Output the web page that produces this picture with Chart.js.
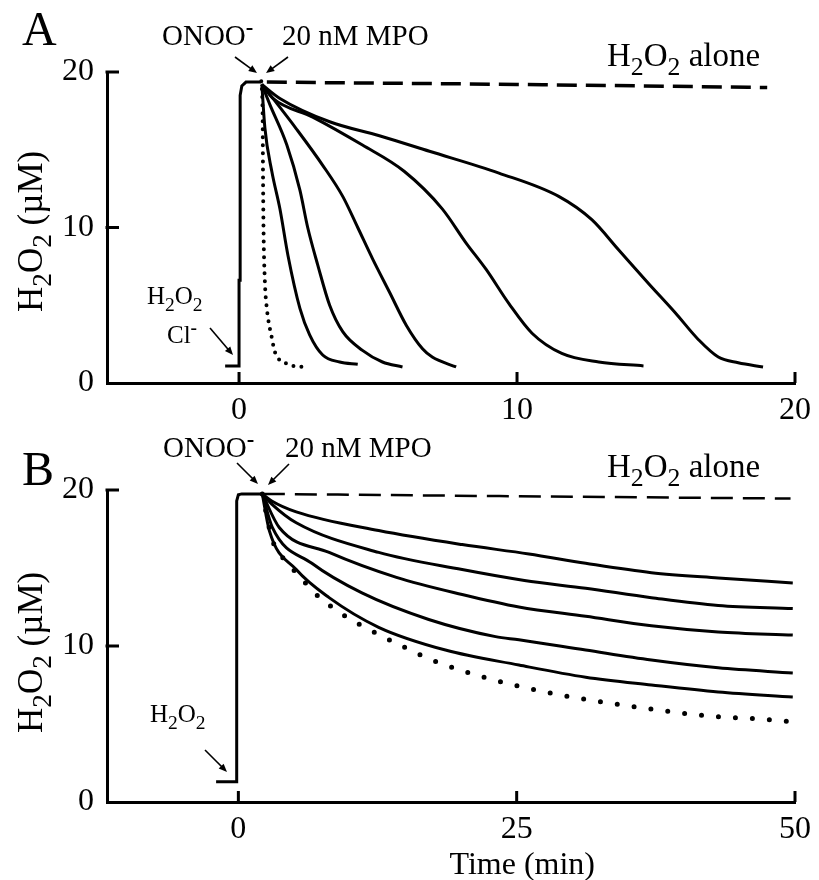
<!DOCTYPE html>
<html>
<head>
<meta charset="utf-8">
<title>H2O2 consumption by MPO</title>
<script src="https://cdn.jsdelivr.net/npm/chart.js@4.4.1/dist/chart.umd.min.js"></script>
<style>
  body { margin: 0; background: #fff; }
  #wrap { position: relative; width: 819px; height: 880px; }
  #wrap canvas { position: absolute; left: 0; top: 0; }
</style>
</head>
<body>
<div id="wrap">
  <canvas id="chartA" width="819" height="880"></canvas>
  <canvas id="chartB" width="819" height="880"></canvas>
</div>
<script>
// ---- panel A data: [time (min), H2O2 (uM)] ----
const aInitial = [[-0.5, 1.1], [0, 1.1], [0, 6.6], [0.04, 6.6], [0.04, 18.5], [0.1, 19.1], [0.25, 19.35], [0.8, 19.35]];
const aAlone = [[1.0, 19.35], [10, 19.2], [19, 19.0]];
const aDotted = [[0.8, 19.4], [0.85, 17], [0.86, 14], [0.88, 10], [0.93, 6.5], [1.0, 4.8], [1.18, 2.9], [1.29, 2.0], [1.65, 1.3], [2.44, 1.0]];
const aCurve1 = [[0.82, 19.2], [0.93, 16.4], [1.18, 13.6], [1.47, 11.2], [1.76, 8.2], [2.19, 4.8], [2.54, 3.1], [3.01, 1.8], [3.62, 1.35], [4.27, 1.2]];
const aCurve2 = [[0.82, 19.2], [1.11, 17.9], [1.72, 15.3], [2.19, 12.4], [2.47, 10.0], [2.83, 7.6], [3.26, 5.0], [3.73, 3.3], [4.44, 2.1], [5.16, 1.35], [5.88, 1.03]];
const aCurve3 = [[0.82, 19.2], [1.22, 18.3], [2.08, 16.3], [3.01, 14.0], [3.73, 12.0], [4.27, 10.0], [4.8, 8.0], [5.41, 5.85], [6.02, 3.7], [6.6, 2.2], [6.95, 1.67], [7.81, 1.03]];
const aCurve4 = [[0.82, 19.2], [1.22, 18.3], [2.65, 17.1], [4.44, 15.3], [5.95, 13.6], [7.31, 11.2], [8.17, 9.0], [8.89, 7.3], [9.71, 5.1], [10.54, 3.2], [11.61, 1.9], [12.94, 1.35], [14.55, 1.1]];
const aCurve5 = [[0.82, 19.2], [1.47, 18.3], [3.26, 16.8], [5.05, 15.9], [6.85, 14.9], [9.35, 13.5], [11.5, 12.0], [12.69, 10.5], [13.66, 8.55], [14.73, 6.4], [15.7, 4.5], [16.52, 2.8], [17.24, 1.67], [17.96, 1.3], [18.85, 1.03]];

// ---- panel B data ----
const bInitial = [[-2, 1.3], [-0.2, 1.3], [-0.15, 1.6], [-0.15, 19.3], [0, 19.7], [0.3, 19.75], [2.2, 19.75]];
const bAlone = [[2.2, 19.75], [25, 19.6], [49.6, 19.45]];
const bDotted = [[2.15, 19.75], [3.05, 16.8], [3.94, 15.7], [5.2, 14.7], [7.0, 13.3], [9.2, 12.1], [11.5, 11.15], [14.4, 10.1], [17.4, 9.1], [22.3, 7.95], [27.2, 7.1], [32.2, 6.47], [37.1, 5.96], [42.4, 5.5], [47.3, 5.3], [50, 5.13]];
const bCurve1 = [[2.15, 19.75], [3, 19.3], [5.2, 18.6], [12.6, 17.4], [20.1, 16.5], [26.1, 15.9], [31.2, 15.3], [37.1, 14.7], [43.1, 14.36], [49.8, 14.04]];
const bCurve2 = [[2.15, 19.75], [3, 19.1], [5.2, 17.9], [12.6, 16.0], [20.1, 14.9], [25.7, 14.2], [31.2, 13.7], [37.1, 13.1], [43.1, 12.6], [49.8, 12.4]];
const bCurve3 = [[2.15, 19.75], [3.67, 17.6], [8.15, 16.0], [14.2, 14.4], [20.1, 13.3], [25.2, 12.5], [31.2, 11.9], [37.1, 11.3], [43.1, 10.9], [49.8, 10.7]];
const bCurve4 = [[2.15, 19.75], [3.05, 17.6], [6.6, 15.3], [11.1, 13.4], [17.1, 11.7], [23.1, 10.6], [25.2, 10.4], [31.2, 9.74], [37.1, 9.1], [43.1, 8.6], [49.8, 8.27]];
const bCurve5 = [[2.15, 19.75], [2.78, 17.4], [5.2, 14.9], [8.15, 13.1], [12.6, 11.2], [18.6, 9.74], [25.2, 8.78], [31.2, 8.0], [37.1, 7.5], [43.1, 7.05], [49.8, 6.73]];

// ---- ticks ----
const aXTicks = [0, 10, 20];
const bXTicks = [0, 25, 50];
const yTicks = [0, 10, 20];

const SERIF = '"Liberation Serif", "Times New Roman", serif';

function xy(pts) {
    return pts.map(p => ({ x: p[0], y: p[1] }));
}

function solid(pts, extra) {
    return Object.assign({
        data: xy(pts),
        showLine: true,
        borderColor: '#000',
        borderWidth: 3,
        pointRadius: 0,
        cubicInterpolationMode: 'monotone',
        fill: false
    }, extra || {});
}

function rich(ctx, parts, x, y, size) {
    let cx = x;
    parts.forEach(p => {
        const txt = Array.isArray(p) ? p[0] : p;
        const mode = Array.isArray(p) ? p[1] : '';
        const fs = mode ? size * 0.78 : size;
        let dy = 0;
        if (mode === 'sub') dy = size * 0.27;
        if (mode === 'sup') dy = -size * 0.36;
        ctx.font = (mode === 'sup' ? 'bold ' : '') + fs + 'px ' + SERIF;
        ctx.fillText(txt, cx, y + dy);
        cx += ctx.measureText(txt).width;
    });
}

function arrow(ctx, x1, y1, x2, y2) {
    const a = Math.atan2(y2 - y1, x2 - x1);
    const h = 9;
    ctx.lineWidth = 1.6;
    ctx.beginPath();
    ctx.moveTo(x1, y1);
    ctx.lineTo(x2 - Math.cos(a) * h * 0.7, y2 - Math.sin(a) * h * 0.7);
    ctx.stroke();
    ctx.beginPath();
    ctx.moveTo(x2, y2);
    ctx.lineTo(x2 - h * Math.cos(a - 0.4), y2 - h * Math.sin(a - 0.4));
    ctx.lineTo(x2 - h * Math.cos(a + 0.4), y2 - h * Math.sin(a + 0.4));
    ctx.closePath();
    ctx.fill();
}

function innerTicks(chart, xTicks) {
    const { ctx, chartArea, scales } = chart;
    ctx.save();
    ctx.strokeStyle = '#000';
    ctx.lineWidth = 3;
    ctx.beginPath();
    xTicks.forEach(v => {
        const px = scales.x.getPixelForValue(v);
        ctx.moveTo(px, chartArea.bottom);
        ctx.lineTo(px, chartArea.bottom - 11);
    });
    yTicks.forEach(v => {
        if (v === 0) return;
        const py = scales.y.getPixelForValue(v);
        ctx.moveTo(chartArea.left - 1.5, py);
        ctx.lineTo(chartArea.left + 12, py);
    });
    ctx.stroke();
    ctx.restore();
}

function yTitle(ctx, x, bottom) {
    ctx.save();
    ctx.translate(x, bottom);
    ctx.rotate(-Math.PI / 2);
    rich(ctx, ['H', ['2', 'sub'], 'O', ['2', 'sub'], ' (\u00b5M)'], 0, 0, 35);
    ctx.restore();
}

const decorA = {
    id: 'decorA',
    afterDraw(chart) {
        const ctx = chart.ctx;
        innerTicks(chart, aXTicks);
        ctx.save();
        ctx.fillStyle = '#000';
        ctx.strokeStyle = '#000';
        ctx.textBaseline = 'alphabetic';
        rich(ctx, ['A'], 22, 45, 48);
        rich(ctx, ['ONOO', ['-', 'sup']], 162, 45, 29);
        rich(ctx, ['20 nM MPO'], 282, 45, 29);
        arrow(ctx, 235, 57, 257, 73);
        arrow(ctx, 288, 57, 266, 73);
        rich(ctx, ['H', ['2', 'sub'], 'O', ['2', 'sub'], ' alone'], 607, 66, 33);
        rich(ctx, ['H', ['2', 'sub'], 'O', ['2', 'sub']], 147, 304, 25);
        rich(ctx, ['Cl', ['-', 'sup']], 167, 343, 25);
        arrow(ctx, 210, 328, 233, 355);
        yTitle(ctx, 42, 312);
        ctx.restore();
    }
};

const decorB = {
    id: 'decorB',
    afterDraw(chart) {
        const ctx = chart.ctx;
        innerTicks(chart, bXTicks);
        ctx.save();
        ctx.fillStyle = '#000';
        ctx.strokeStyle = '#000';
        ctx.textBaseline = 'alphabetic';
        rich(ctx, ['B'], 22, 485, 48);
        rich(ctx, ['ONOO', ['-', 'sup']], 163, 457, 29);
        rich(ctx, ['20 nM MPO'], 285, 457, 29);
        arrow(ctx, 237, 463, 258, 484);
        arrow(ctx, 289, 464, 268, 485);
        rich(ctx, ['H', ['2', 'sub'], 'O', ['2', 'sub'], ' alone'], 607, 477, 33);
        rich(ctx, ['H', ['2', 'sub'], 'O', ['2', 'sub']], 150, 722, 25);
        arrow(ctx, 205, 750, 227, 772);
        yTitle(ctx, 42, 733);
        ctx.font = '32px ' + SERIF;
        ctx.textAlign = 'center';
        ctx.fillText('Time (min)', chart.scales.x.getPixelForValue(25.5), 874);
        ctx.restore();
    }
};

function makeScales(xMin, xMax, xTicks, xHeight) {
    return {
        x: {
            type: 'linear',
            min: xMin,
            max: xMax,
            grid: { display: false, drawTicks: false },
            border: { display: true, color: '#000', width: 3 },
            ticks: { color: '#000', font: { family: SERIF, size: 32 }, padding: 8, maxRotation: 0 },
            afterBuildTicks: s => { s.ticks = xTicks.map(v => ({ value: v })); },
            afterFit: s => { s.height = xHeight; }
        },
        y: {
            type: 'linear',
            min: 0,
            max: 20,
            grid: { display: false, drawTicks: false },
            border: { display: true, color: '#000', width: 3 },
            ticks: { color: '#000', font: { family: SERIF, size: 32 }, padding: 13 },
            afterBuildTicks: s => { s.ticks = yTicks.map(v => ({ value: v })); },
            afterFit: s => { s.width = 107; }
        }
    };
}

const common = {
    responsive: false,
    animation: false,
    devicePixelRatio: 1,
    events: [],
    plugins: { legend: { display: false }, tooltip: { enabled: false } }
};

new Chart(document.getElementById('chartA'), {
    type: 'scatter',
    data: {
        datasets: [
            solid(aInitial, { cubicInterpolationMode: 'default', tension: 0 }),
            solid(aAlone, { borderDash: [20, 9], borderWidth: 3.5, tension: 0 }),
            solid(aDotted, { borderDash: [0, 8], borderWidth: 4, borderCapStyle: 'round' }),
            solid(aCurve1),
            solid(aCurve2),
            solid(aCurve3),
            solid(aCurve4),
            solid(aCurve5)
        ]
    },
    options: Object.assign({}, common, {
        layout: { padding: { top: 72, left: 0, right: 22, bottom: 440 } },
        scales: makeScales(-4.75, 20, aXTicks, 57)
    }),
    plugins: [decorA]
});

new Chart(document.getElementById('chartB'), {
    type: 'scatter',
    data: {
        datasets: [
            solid(bInitial, { cubicInterpolationMode: 'default', tension: 0 }),
            solid(bAlone, { borderDash: [22, 10], borderWidth: 2.5, tension: 0 }),
            solid(bDotted, { borderDash: [0, 17], borderWidth: 5, borderCapStyle: 'round' }),
            solid(bCurve1),
            solid(bCurve2),
            solid(bCurve3),
            solid(bCurve4),
            solid(bCurve5)
        ]
    },
    options: Object.assign({}, common, {
        layout: { padding: { top: 490, left: 0, right: 22, bottom: 20 } },
        scales: makeScales(-11.8, 50, bXTicks, 58)
    }),
    plugins: [decorB]
});
</script>
</body>
</html>
